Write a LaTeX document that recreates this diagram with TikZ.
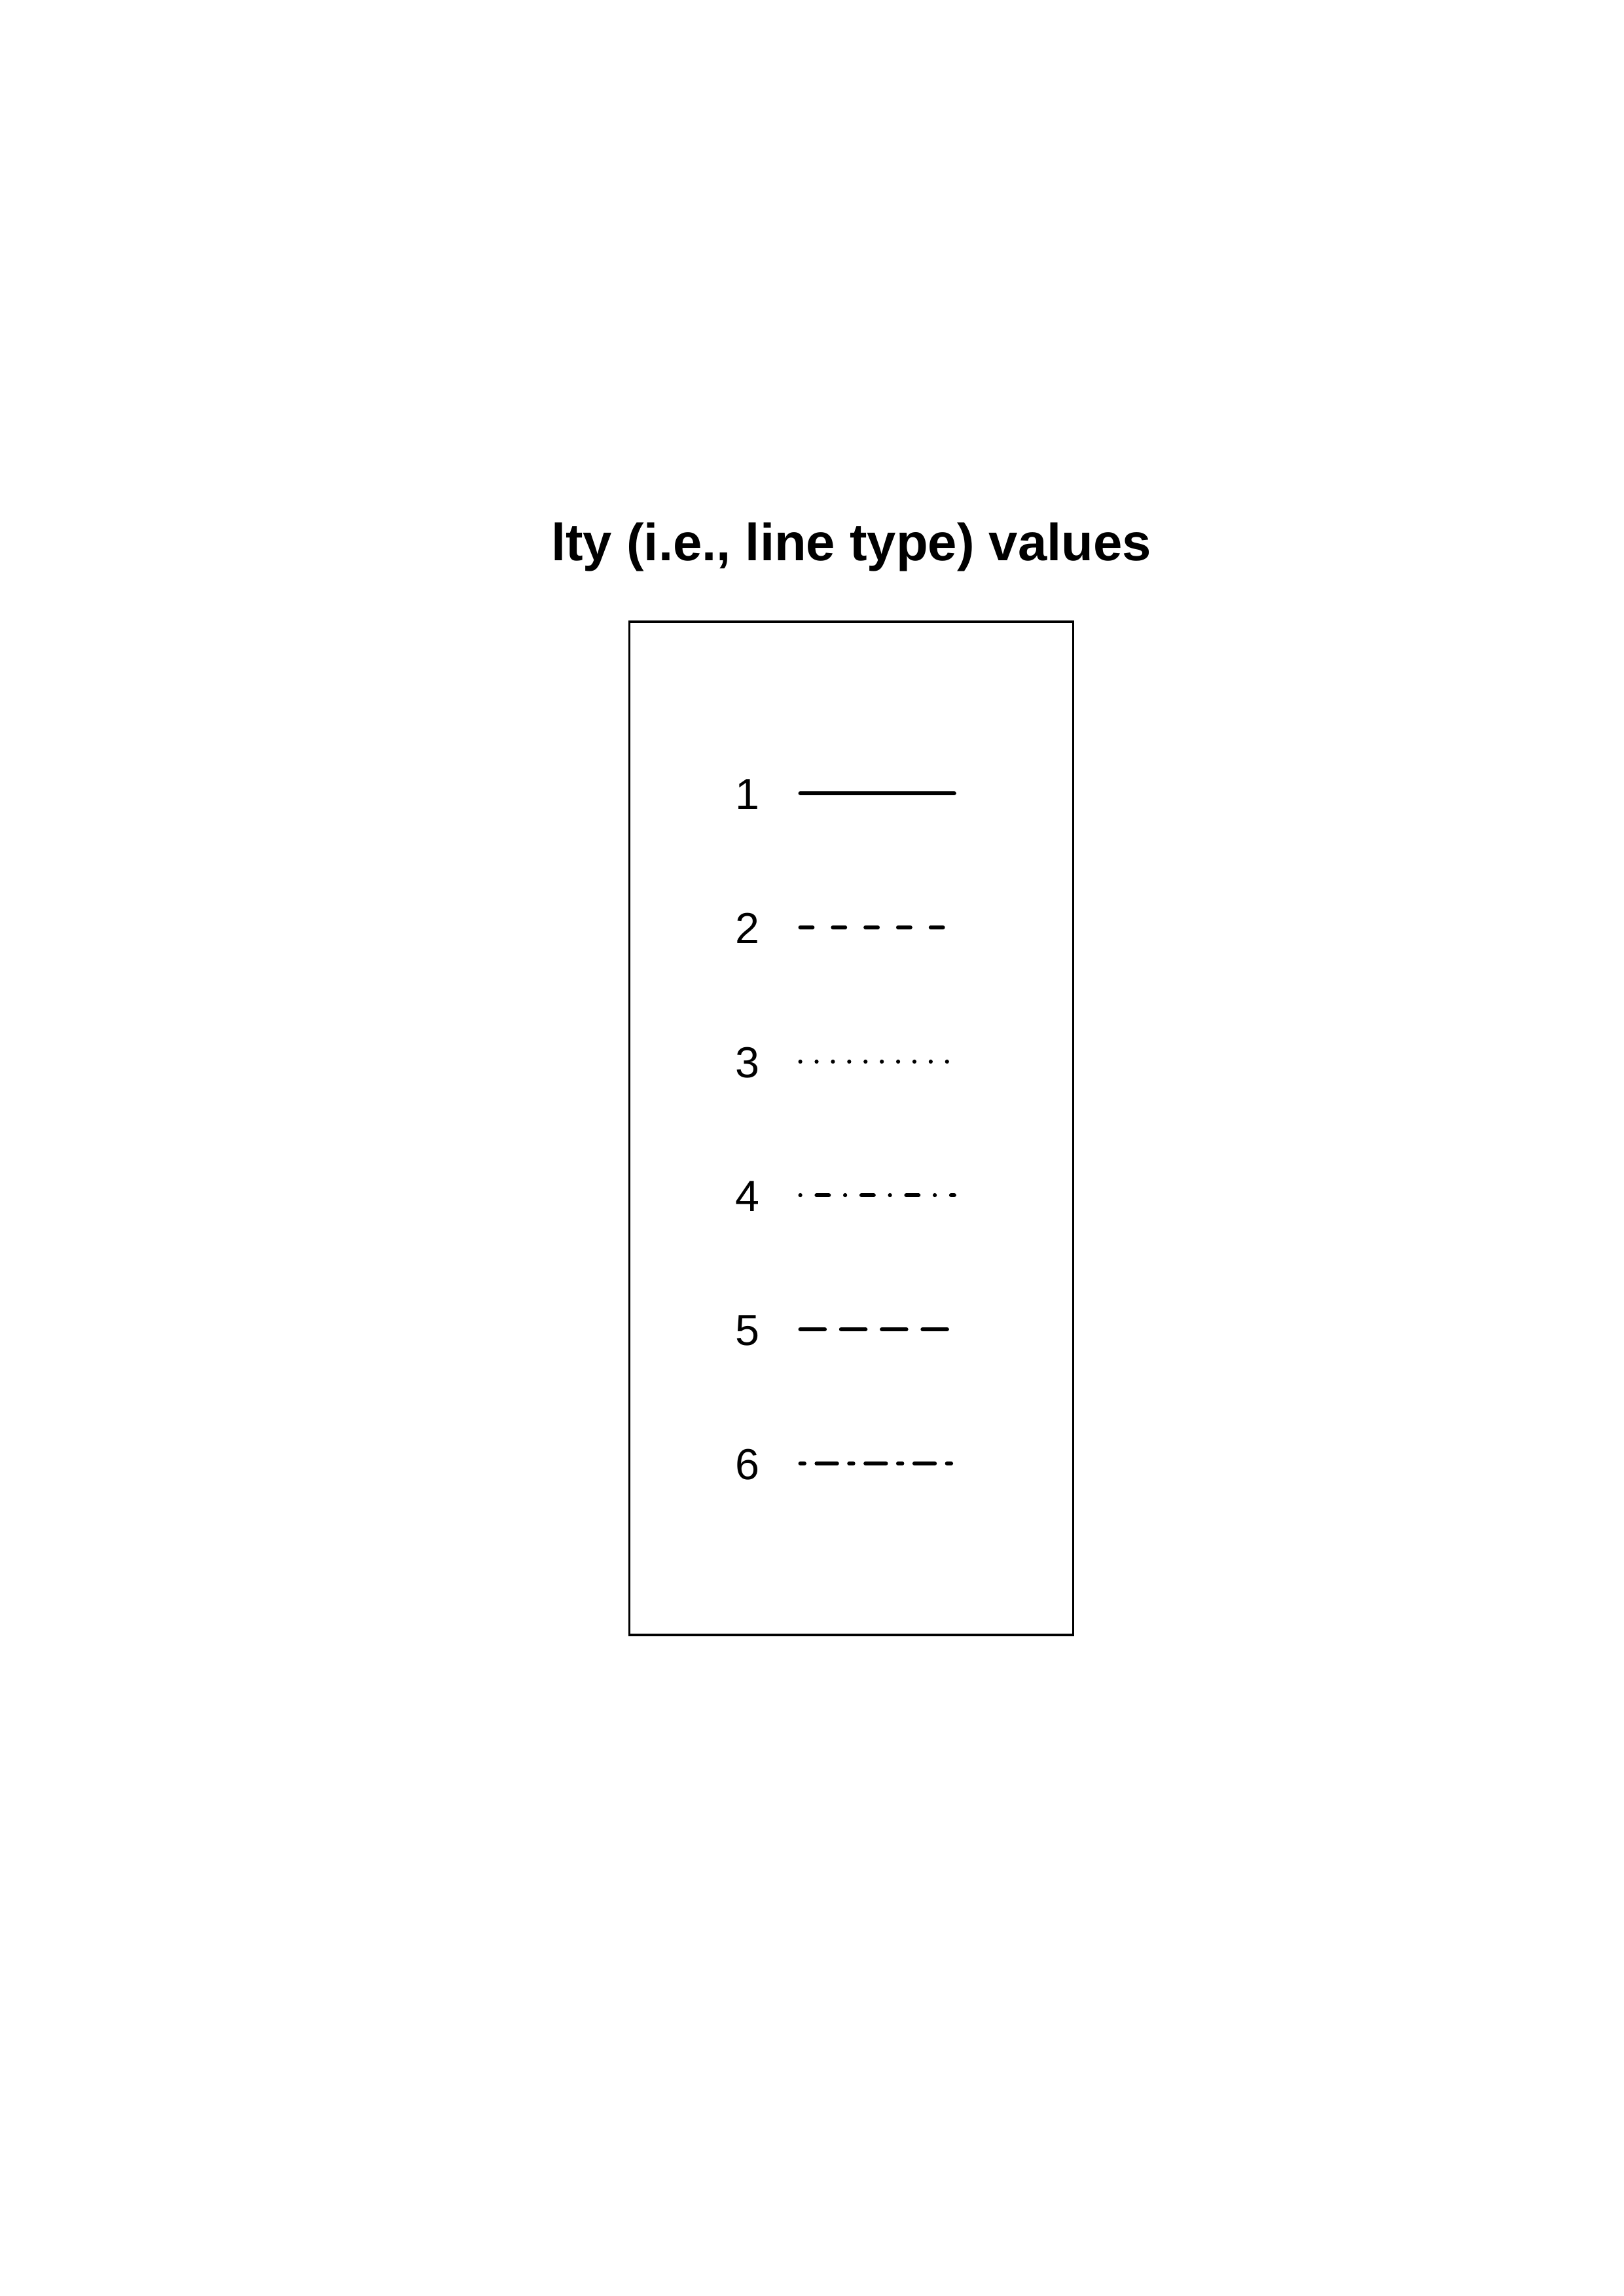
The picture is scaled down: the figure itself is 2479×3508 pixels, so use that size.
\documentclass[tikz,border=0pt]{standalone}
\usepackage{fontspec}
\setmainfont{Liberation Sans}
\begin{document}
\begin{tikzpicture}[x=0.084712mm,y=-0.084664mm,
  sample/.style={line width=1.5pt,line cap=round},
  lab/.style={anchor=base,inner sep=0pt,font=\fontsize{16}{19}\selectfont},
  ttl/.style={anchor=base,inner sep=0pt,font=\bfseries\fontsize{19.2}{23}\selectfont},
  frame/.style={line width=0.75pt}]
\useasboundingbox (0,0) rectangle (2479,3508);
\node[ttl] (title) at (1300,856) {lty (i.e., line type) values};
\draw[frame] (961,950) rectangle (1639,2498);
\foreach \i/\yy in {1/1212,2/1417,3/1622,4/1826,5/2031,6/2236}{
  \node[lab] (l\i) at (1141.5,\yy+24) {\i};
  \coordinate (s\i) at (1222,\yy);
  \coordinate (e\i) at (1457,\yy);
}
\draw[sample] (s1) -- (e1);
\draw[sample,dash pattern=on 4.5pt off 7.5pt] (s2) -- (e2);
\draw[sample,dash pattern=on 0pt off 6pt] (s3) -- (e3);
\draw[sample,dash pattern=on 0pt off 6pt on 4.5pt off 6pt] (s4) -- (e4);
\draw[sample,dash pattern=on 9pt off 6pt] (s5) -- (e5);
\draw[sample,dash pattern=on 1.5pt off 4.5pt on 7.5pt off 4.5pt] (s6) -- (e6);
\end{tikzpicture}
\end{document}
